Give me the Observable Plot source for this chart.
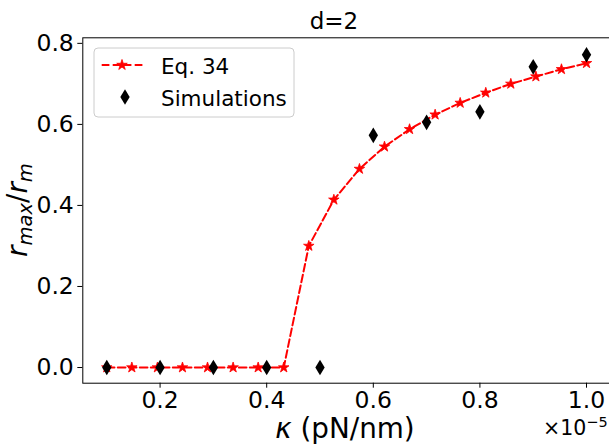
<!DOCTYPE html>
<html>
<head>
<meta charset="utf-8">
<script src="https://cdn.jsdelivr.net/npm/d3@7"></script>
<script src="https://cdn.jsdelivr.net/npm/@observablehq/plot@0.6"></script>
<style>
  html, body { margin: 0; padding: 0; background: white; }
  svg { display: block; }
</style>
</head>
<body>
<div id="chart"></div>
<script>
// κ values in units of 1e-5 pN/nm
const kappaEq = [0.1, 0.147, 0.195, 0.242, 0.289, 0.337, 0.384, 0.432, 0.479, 0.526,
                 0.574, 0.621, 0.668, 0.716, 0.763, 0.811, 0.858, 0.905, 0.953, 1.0];
const rEq = [0, 0, 0, 0, 0, 0, 0, 0, 0.300, 0.414,
             0.490, 0.545, 0.588, 0.624, 0.653, 0.678, 0.700, 0.718, 0.736, 0.751];
const kappaSim = [0.1, 0.2, 0.3, 0.4, 0.5, 0.6, 0.7, 0.8, 0.9, 1.0];
const rSim = [0, 0, 0, 0, 0, 0.573, 0.605, 0.631, 0.742, 0.772];
const xTicks = [0.2, 0.4, 0.6, 0.8, 1.0];
const yTicks = [0.0, 0.2, 0.4, 0.6, 0.8];
const seriesNames = ["Eq. 34", "Simulations"];
const titleText = "d=2";

const eqData = kappaEq.map((k, i) => ({k, r: rEq[i]}));
const simData = kappaSim.map((k, i) => ({k, r: rSim[i]}));

const thinDiamond = {
  draw(ctx, size) {
    const h = Math.sqrt(size / Math.PI);
    const w = h * 0.6;
    ctx.moveTo(0, -h); ctx.lineTo(w, 0); ctx.lineTo(0, h); ctx.lineTo(-w, 0); ctx.closePath();
  }
};

const FONT = "DejaVu Sans";
const TICK = 23.5;
const chart = Plot.plot({
  width: 609, height: 445,
  marginLeft: 82.3, marginRight: -1, marginTop: 37.3, marginBottom: 62.3,
  style: {fontFamily: FONT, fontSize: TICK + "px", color: "black", background: "white", overflow: "hidden"},
  x: {domain: [0.055, 1.045]},
  y: {domain: [-0.0387, 0.8137]},
  marks: [
    Plot.axisX({ticks: xTicks, tickFormat: d3.format(".1f"), tickSize: 5, tickPadding: 3, label: null, fontSize: TICK}),
    Plot.axisY({ticks: yTicks, tickFormat: d3.format(".1f"), tickSize: 5, tickPadding: 4, label: null, fontSize: TICK}),
    Plot.line(eqData, {x: "k", y: "r", stroke: "red", strokeWidth: 2, strokeDasharray: "7.7,3.3"}),
    Plot.dot(eqData, {x: "k", y: "r", symbol: "star", r: 3.3, fill: "red", stroke: "red", strokeWidth: 0.8}),
    Plot.dot(simData, {x: "k", y: "r", symbol: thinDiamond, r: 7.8, fill: "black"}),
    Plot.frame({stroke: "black", strokeWidth: 1})
  ]
});
document.getElementById("chart").append(chart);

const svg = d3.select(chart);
const g = svg.append("g").attr("font-family", FONT).attr("fill", "black").attr("text-anchor", "start");

// title
g.append("text").attr("x", 334).attr("y", 29).attr("text-anchor", "middle")
  .attr("font-size", 23).text(titleText);

// x label
const xl = g.append("text").attr("x", 345).attr("y", 438).attr("text-anchor", "middle").attr("font-size", 27.8);
xl.append("tspan").attr("font-style", "italic").text("κ");
xl.append("tspan").text(" (pN/nm)");

// offset text ×10^-5
const off = g.append("text").attr("x", 543).attr("y", 434.5).attr("text-anchor", "start").attr("font-size", 20.5);
off.append("tspan").text("×10");
off.append("tspan").attr("font-size", 14.5).attr("dy", -7.5).text("−5");

// y label r_max / r_m
const yl = g.append("text").attr("transform", "translate(27,210) rotate(-90)")
  .attr("text-anchor", "middle").attr("font-size", 27.8).attr("font-style", "italic");
yl.append("tspan").text("r");
yl.append("tspan").attr("font-size", 19.5).attr("dy", 5).text("max");
yl.append("tspan").attr("font-style", "normal").attr("dy", -5).text("/");
yl.append("tspan").text("r");
yl.append("tspan").attr("font-size", 19.5).attr("dy", 5).text("m");

// legend
const lg = svg.append("g").attr("font-family", FONT).attr("text-anchor", "start");
lg.append("rect").attr("x", 94).attr("y", 48).attr("width", 200).attr("height", 69).attr("rx", 4)
  .attr("fill", "white").attr("fill-opacity", 0.8).attr("stroke", "#cccccc").attr("stroke-width", 1);
lg.append("line").attr("x1", 101.7).attr("x2", 143).attr("y1", 65).attr("y2", 65)
  .attr("stroke", "red").attr("stroke-width", 2).attr("stroke-dasharray", "7.7,3.3");
lg.append("path").attr("transform", "translate(122,65)")
  .attr("d", d3.symbol(d3.symbolStar, Math.PI * 3.3 * 3.3)()).attr("fill", "red").attr("stroke", "red").attr("stroke-width", 0.8);
lg.append("path").attr("transform", "translate(125,97)")
  .attr("d", d3.symbol(thinDiamond, Math.PI * 7.8 * 7.8)()).attr("fill", "black");
lg.append("text").attr("x", 161).attr("y", 73.5).attr("text-anchor", "start").attr("font-size", 21.5).attr("fill", "black").text(seriesNames[0]);
lg.append("text").attr("x", 161).attr("y", 105.5).attr("text-anchor", "start").attr("font-size", 21.5).attr("fill", "black").text(seriesNames[1]);
</script>
</body>
</html>
